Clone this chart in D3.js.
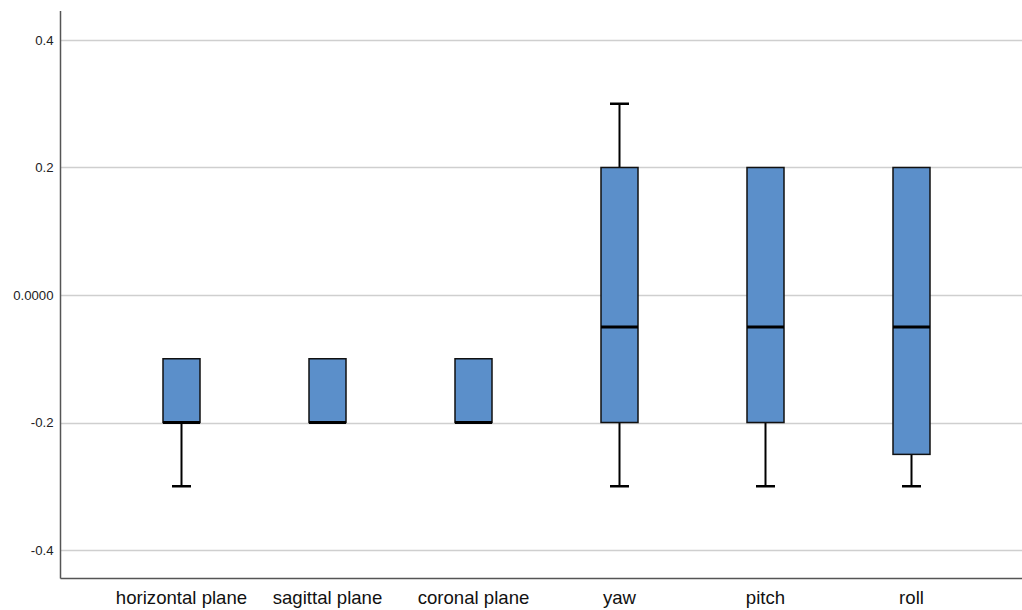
<!DOCTYPE html>
<html><head><meta charset="utf-8">
<script src="https://cdn.jsdelivr.net/npm/d3@7"></script>
<style>body{margin:0;background:#fff}svg{display:block}</style>
</head><body>
<svg id="chart" width="1022" height="610"></svg>
<script>
const categories = ["horizontal plane","sagittal plane","coronal plane","yaw","pitch","roll"];
const whiskerLow  = [-0.3, -0.2, -0.2, -0.3, -0.3, -0.3];
const q1          = [-0.2, -0.2, -0.2, -0.2, -0.2, -0.25];
const medians     = [-0.2, -0.2, -0.2, -0.05, -0.05, -0.05];
const q3          = [-0.1, -0.1, -0.1, 0.2, 0.2, 0.2];
const whiskerHigh = [-0.1, -0.1, -0.1, 0.3, 0.2, 0.2];
const yTicks = [0.4, 0.2, 0, -0.2, -0.4];
const yTickLabels = ["0.4","0.2","0.0000","-0.2","-0.4"];

const svg = d3.select("#chart");
const axisX = 60.5, axisTop = 11, axisBottom = 578.5, rightEdge = 1022;

const y = d3.scaleLinear().domain([-0.4, 0.4]).range([550, 40]);
const x = d3.scaleBand().domain(categories).range([108.5, 984.5]).padding(0);
const boxW = 37, capW = 19;

// gridlines
svg.append("g").selectAll("line").data(yTicks).join("line")
  .attr("x1", axisX).attr("x2", rightEdge)
  .attr("y1", d => Math.round(y(d)) + 0.5).attr("y2", d => Math.round(y(d)) + 0.5)
  .attr("stroke", "#cfcfcf").attr("stroke-width", 1.5);

// y axis
const yAxis = d3.axisLeft(y).tickValues(yTicks).tickSize(0).tickPadding(7)
  .tickFormat((d, i) => yTickLabels[i]);
const gy = svg.append("g").attr("transform", `translate(${axisX},0)`).call(yAxis);
gy.select(".domain").remove();
gy.selectAll("text").attr("font-family", "Arial, 'Liberation Sans', sans-serif")
  .attr("font-size", 13.2).attr("fill", "#222");

// x axis
const xAxis = d3.axisBottom(x).tickSize(0).tickPadding(12);
const gx = svg.append("g").attr("transform", `translate(0,${axisBottom})`).call(xAxis);
gx.select(".domain").remove();
gx.selectAll("text").attr("font-family", "Arial, 'Liberation Sans', sans-serif")
  .attr("font-size", 18.6).attr("fill", "#111");

// axis lines
svg.append("line").attr("x1", axisX).attr("x2", axisX).attr("y1", axisTop).attr("y2", axisBottom)
  .attr("stroke", "#555").attr("stroke-width", 1.5);
svg.append("line").attr("x1", axisX).attr("x2", rightEdge).attr("y1", axisBottom).attr("y2", axisBottom)
  .attr("stroke", "#555").attr("stroke-width", 1.5);

const data = categories.map((c, i) => ({c, lo: whiskerLow[i], q1: q1[i], med: medians[i], q3: q3[i], hi: whiskerHigh[i]}));
const g = svg.append("g").selectAll("g").data(data).join("g");
const cx = d => x(d.c) + x.bandwidth() / 2;

// whiskers
g.filter(d => d.lo < d.q1).append("line")
  .attr("x1", cx).attr("x2", cx).attr("y1", d => y(d.q1)).attr("y2", d => y(d.lo))
  .attr("stroke", "#000").attr("stroke-width", 2);
g.filter(d => d.lo < d.q1).append("line")
  .attr("x1", d => cx(d) - capW/2).attr("x2", d => cx(d) + capW/2).attr("y1", d => y(d.lo)).attr("y2", d => y(d.lo))
  .attr("stroke", "#000").attr("stroke-width", 2.5);
g.filter(d => d.hi > d.q3).append("line")
  .attr("x1", cx).attr("x2", cx).attr("y1", d => y(d.q3)).attr("y2", d => y(d.hi))
  .attr("stroke", "#000").attr("stroke-width", 2);
g.filter(d => d.hi > d.q3).append("line")
  .attr("x1", d => cx(d) - capW/2).attr("x2", d => cx(d) + capW/2).attr("y1", d => y(d.hi)).attr("y2", d => y(d.hi))
  .attr("stroke", "#000").attr("stroke-width", 2.5);

// boxes
g.append("rect")
  .attr("x", d => cx(d) - boxW/2).attr("width", boxW)
  .attr("y", d => y(d.q3)).attr("height", d => y(d.q1) - y(d.q3))
  .attr("fill", "#5b8fca").attr("stroke", "#111").attr("stroke-width", 1.5);

// medians
g.append("line")
  .attr("x1", d => cx(d) - boxW/2).attr("x2", d => cx(d) + boxW/2)
  .attr("y1", d => y(d.med)).attr("y2", d => y(d.med))
  .attr("stroke", "#000").attr("stroke-width", 3);
</script>
</body></html>
